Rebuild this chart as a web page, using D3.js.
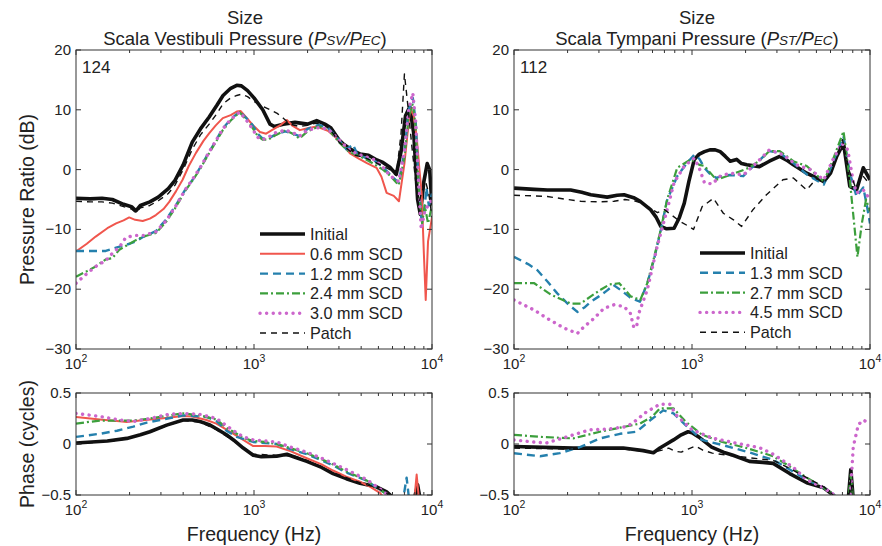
<!DOCTYPE html>
<html>
<head>
<meta charset="utf-8">
<script src="https://cdn.jsdelivr.net/npm/d3@7"></script>
<style>
  body { margin: 0; background: #fff; }
  svg { font-family: "Liberation Sans", Arial, sans-serif; }
</style>
</head>
<body>
<svg id="chart" width="882" height="546"></svg>
<script>
// tick values
var dbTicks = [-30, -20, -10, 0, 10, 20]
var phaseTicks = [-0.5, 0, 0.5]
var decades = [100, 1000, 10000]

// Scala vestibuli, magnitude (Hz, dB)
var svInitial = [[100,-4.8],[120,-4.9],[140,-4.8],[160,-5.0],[185,-5.8],[205,-6.2],[217,-6.9],[230,-6.0],[260,-5.4],[290,-4.6],[330,-3.2],[360,-1.8],[400,0.8],[450,4.6],[500,6.8],[560,8.8],[620,10.8],[670,12.4],[740,13.6],[800,14.1],[850,14.0],[920,13.2],[1000,12.0],[1120,10.0],[1230,7.6],[1300,7.2],[1460,7.6],[1700,7.9],[2000,7.6],[2250,8.2],[2500,7.6],[2700,7.0],[3000,5.0],[3200,4.2],[3500,3.4],[3950,2.6],[4400,2.4],[4900,1.6],[5300,1.2],[5800,0.4],[6300,-0.8],[6700,3],[7100,9],[7500,10.5],[7900,6],[8300,-5],[8600,-7.5],[9000,-2],[9400,1],[9700,0],[10000,-6]]
var svScd06 = [[100,-13.7],[115,-12.4],[129,-11.2],[150,-9.8],[168,-9.0],[185,-8.5],[199,-8.0],[215,-8.4],[237,-8.6],[260,-8.2],[281,-7.6],[310,-6.6],[334,-5.4],[365,-3.6],[397,-1.7],[430,0.6],[472,2.8],[520,4.8],[561,6.1],[610,7.4],[668,8.6],[740,9.1],[800,9.7],[840,9.8],[900,8.8],[980,7.5],[1080,6.3],[1170,6.0],[1260,6.6],[1400,7.4],[1530,8.3],[1650,7.3],[1810,6.6],[2000,6.9],[2250,7.2],[2600,6.5],[2920,5.2],[3200,4.0],[3460,2.7],[3900,1.8],[4310,1.1],[4880,0.3],[5200,-1.2],[5560,-3.9],[6100,-4.4],[6520,-5.3],[7000,1],[7540,10.3],[7900,9.0],[8200,5.5],[8500,0],[8750,-4],[9000,-14],[9220,-21.8],[9500,-12],[10000,-8]]
var svScd12 = [[100,-13.6],[120,-13.6],[147,-13.6],[170,-13.0],[200,-12.4],[217,-12.0],[240,-11.2],[281,-10.3],[320,-8.4],[365,-5.9],[410,-3.4],[452,-1.7],[500,0.4],[561,3.0],[610,4.8],[668,6.9],[740,8.4],[830,9.7],[900,8.7],[980,7.5],[1050,6.0],[1117,5.2],[1200,5.2],[1330,5.9],[1500,6.4],[1650,6.0],[1800,5.6],[2000,6.8],[2300,7.5],[2600,7.0],[3000,5.0],[3300,3.4],[3600,4.2],[3800,2.6],[4200,2.0],[4800,1.4],[5300,0.4],[5800,-0.8],[6500,-2.2],[7000,3],[7400,10],[7800,12],[8100,8],[8400,-2],[8700,-8],[9000,-8],[9300,-3],[9600,-6],[10000,-4]]
var svScd24 = [[100,-17.9],[115,-17.0],[129,-16.2],[147,-15.0],[160,-14.8],[175,-13.4],[200,-12.4],[217,-11.8],[240,-11.2],[281,-10.6],[320,-8.8],[365,-6.2],[410,-3.6],[452,-1.8],[500,0.2],[561,2.8],[610,4.6],[668,6.6],[740,8.2],[830,9.6],[900,8.4],[980,7.0],[1050,5.6],[1117,5.0],[1200,5.0],[1330,5.8],[1500,6.6],[1650,6.0],[1800,5.2],[2000,6.4],[2300,7.2],[2600,6.8],[3000,4.6],[3400,3.0],[3800,2.4],[4200,1.8],[4800,0.8],[5300,0.0],[5800,-1.0],[6500,-2.6],[7000,2],[7400,9],[7800,11],[8100,7],[8400,-3],[8800,-9],[9100,-6],[9500,-9],[10000,-6]]
var svScd30 = [[100,-19.0],[115,-17.4],[129,-16.2],[147,-15.2],[160,-14.0],[175,-13.0],[190,-11.4],[200,-11.2],[217,-11.0],[240,-11.0],[281,-10.4],[320,-8.6],[365,-6.0],[410,-3.4],[452,-1.6],[500,0.4],[561,3.0],[610,4.8],[668,6.8],[740,8.4],[830,9.6],[900,8.4],[980,6.8],[1050,5.4],[1117,5.0],[1200,5.4],[1330,6.2],[1500,6.6],[1650,6.2],[1800,5.6],[2000,6.6],[2300,7.0],[2600,6.8],[3000,5.0],[3400,3.4],[3800,2.6],[4200,2.2],[4800,1.6],[5300,0.4],[5800,-1.0],[6500,-2.0],[7000,3],[7400,10],[7800,12.8],[8100,8],[8400,-2],[8700,-10],[9100,-7],[9500,-6],[10000,-5]]
var svPatch = [[100,-5.3],[120,-5.4],[140,-5.4],[160,-5.6],[185,-6.2],[205,-6.6],[217,-7.2],[230,-6.4],[260,-6.0],[290,-5.2],[330,-4.0],[360,-2.6],[400,0.0],[450,3.4],[500,5.8],[560,7.6],[620,9.4],[670,11.0],[740,12.0],[800,12.4],[850,12.6],[920,12.2],[1000,11.4],[1120,10.6],[1230,10.0],[1350,9.4],[1460,8.6],[1600,7.6],[1800,7.2],[2000,7.4],[2250,7.8],[2500,7.4],[2700,6.6],[3000,4.6],[3300,3.6],[3700,2.4],[4200,2.0],[4800,1.2],[5300,0.6],[5800,0.0],[6300,-1.0],[6700,6],[7000,16],[7300,11],[7700,4],[8100,-2],[8400,-6],[8700,-4],[9200,-2],[9600,-4],[10000,-8]]

// Scala vestibuli, phase (Hz, cycles)
var svPhInitial = [[100,0.01],[150,0.03],[193,0.055],[230,0.09],[260,0.12],[323,0.185],[400,0.235],[450,0.235],[497,0.22],[560,0.19],[615,0.15],[700,0.09],[767,0.04],[870,-0.04],[990,-0.11],[1100,-0.125],[1340,-0.12],[1530,-0.10],[1700,-0.13],[1980,-0.17],[2400,-0.23],[2780,-0.29],[3300,-0.34],[3940,-0.385],[4880,-0.42],[5560,-0.47],[6000,-0.52],[7000,-0.6],[7800,-0.6],[8300,-0.4],[8700,-0.6],[10000,-0.6]]
var svPhScd06 = [[100,0.265],[136,0.24],[170,0.225],[193,0.215],[229,0.23],[300,0.25],[400,0.275],[450,0.27],[540,0.235],[615,0.2],[700,0.14],[767,0.10],[870,0.04],[990,-0.02],[1150,-0.02],[1340,-0.025],[1600,-0.07],[1980,-0.14],[2400,-0.2],[2780,-0.26],[3300,-0.32],[3940,-0.37],[4500,-0.42],[5100,-0.48],[5500,-0.55],[7000,-0.6],[7900,-0.6],[8200,-0.3],[8500,-0.6],[10000,-0.6]]
var svPhScd12 = [[100,0.07],[136,0.10],[170,0.13],[210,0.17],[250,0.21],[296,0.235],[350,0.26],[400,0.28],[460,0.275],[543,0.265],[620,0.22],[700,0.13],[800,0.07],[990,0.02],[1150,0.01],[1340,0.0],[1600,-0.05],[1980,-0.10],[2400,-0.16],[2780,-0.21],[3300,-0.28],[4310,-0.36],[5000,-0.44],[5560,-0.49],[6000,-0.55],[6800,-0.6],[7200,-0.33],[7500,-0.6],[10000,-0.6]]
var svPhScd24 = [[100,0.20],[136,0.23],[170,0.23],[210,0.23],[260,0.25],[330,0.28],[400,0.30],[500,0.28],[615,0.24],[700,0.16],[767,0.12],[870,0.06],[990,0.03],[1150,0.02],[1340,0.0],[1600,-0.04],[1980,-0.09],[2400,-0.15],[2780,-0.2],[3300,-0.27],[4310,-0.36],[5000,-0.44],[5560,-0.49],[6000,-0.55],[10000,-0.6]]
var svPhScd30 = [[100,0.30],[136,0.27],[170,0.24],[210,0.22],[260,0.25],[330,0.29],[400,0.30],[500,0.29],[615,0.25],[700,0.18],[767,0.13],[870,0.07],[990,0.04],[1150,0.03],[1340,0.02],[1600,-0.03],[1980,-0.08],[2400,-0.14],[2780,-0.19],[3300,-0.25],[4310,-0.35],[5000,-0.43],[5560,-0.49],[6000,-0.55],[10000,-0.6]]
var svPhPatch = [[100,0.0],[150,0.025],[193,0.05],[260,0.115],[323,0.18],[400,0.23],[497,0.215],[615,0.14],[767,0.03],[990,-0.1],[1340,-0.11],[1700,-0.12],[1980,-0.16],[2780,-0.28],[3940,-0.38],[4880,-0.43],[5560,-0.48],[6000,-0.55],[10000,-0.6]]

// Scala tympani, magnitude (Hz, dB)
var stInitial = [[100,-3.1],[130,-3.3],[154,-3.4],[208,-3.4],[240,-3.8],[270,-4.2],[334,-4.6],[380,-4.3],[415,-4.2],[470,-4.7],[512,-5.3],[585,-6.7],[630,-8.0],[668,-9.5],[720,-9.9],[793,-9.8],[850,-8.0],[905,-5.6],[960,-2.0],[1030,1.7],[1100,2.6],[1175,3.0],[1260,3.3],[1350,3.3],[1440,3.0],[1540,2.2],[1640,1.4],[1780,1.7],[1900,1.0],[2030,0.8],[2390,0.5],[2720,1.4],[3110,2.2],[3400,1.6],[3710,0.8],[4410,-0.6],[5000,-1.4],[5500,-2.0],[6000,-0.6],[6500,2.2],[7100,4.4],[7700,-2.8],[8400,-3.4],[9170,0.3],[10000,-1.7]]
var stScd13 = [[100,-14.6],[120,-15.8],[135,-16.8],[155,-18.8],[175,-20.7],[200,-22.4],[227,-23.8],[250,-23.0],[270,-22.1],[300,-21.2],[334,-20.2],[362,-19.3],[400,-20.2],[450,-21.4],[510,-22.1],[561,-19.0],[611,-15.1],[668,-10.1],[725,-5.1],[826,-1.1],[937,1.1],[1030,2.5],[1100,1.8],[1175,0.3],[1250,-0.6],[1370,-1.4],[1500,-1.0],[1640,-0.9],[1940,-1.1],[2300,1.1],[2720,3.1],[3110,2.8],[3710,1.1],[4410,-0.8],[5500,-2.5],[6200,1.1],[7100,5.5],[7700,-0.5],[8400,-4.5],[9170,-3.0],[9600,-6],[10000,-9]]
var stScd27 = [[100,-19.0],[130,-19.0],[161,-20.9],[208,-22.4],[237,-22.4],[270,-21.2],[310,-20.0],[345,-19.2],[390,-19.0],[453,-21.2],[512,-21.8],[561,-19.0],[611,-14.8],[668,-10.0],[725,-5.0],[826,0.3],[985,1.7],[1100,0.8],[1175,0.6],[1370,-1.7],[1640,-0.9],[2090,0.3],[2400,1.5],[2720,3.1],[3110,3.1],[3710,1.4],[4410,0.6],[5500,-2.0],[6200,1.7],[7100,6.4],[7700,-1.7],[8250,-10.7],[8500,-14.6],[9000,-9],[9500,-5],[10000,-7]]
var stScd45 = [[100,-21.8],[130,-23.5],[154,-24.9],[191,-26.5],[227,-27.4],[247,-26.3],[281,-24.9],[320,-23.2],[365,-22.6],[415,-22.9],[450,-24],[472,-26.5],[490,-26],[503,-24],[561,-20.1],[637,-12.9],[725,-6.7],[793,-2.2],[905,0.6],[1030,1.9],[1100,0.2],[1175,-2.2],[1300,-2.4],[1440,-1.1],[1640,-0.6],[1940,-0.9],[2300,1.1],[2720,3.3],[3240,2.5],[3860,0.8],[4620,0.0],[5500,-1.7],[6200,1.7],[6950,4.4],[7500,3.3],[8050,-2.0],[8400,-3.9],[9170,-3.4],[10000,-5]]
var stPatch = [[100,-4.3],[130,-4.4],[154,-4.5],[200,-5.0],[237,-5.3],[300,-5.4],[365,-5.3],[420,-5.0],[470,-5.2],[520,-5.6],[585,-6.5],[640,-7.2],[700,-6.7],[760,-7.5],[850,-8.6],[960,-9.5],[1020,-10.0],[1140,-6.2],[1320,-4.8],[1500,-7.3],[1710,-8.4],[1900,-9.5],[2200,-6.7],[2620,-4.2],[3240,-1.7],[3710,-1.4],[4410,-3.4],[5000,-1.5],[5500,-2.2],[6000,-0.8],[6500,2.0],[7000,5.0],[7600,0],[8300,-3.0],[9100,-1.0],[10000,-2.5]]

// Scala tympani, phase (Hz, cycles)
var stPhInitial = [[100,-0.025],[215,-0.04],[411,-0.04],[532,-0.065],[607,-0.085],[660,-0.04],[720,0.0],[787,0.04],[870,0.09],[950,0.12],[1000,0.11],[1090,0.07],[1290,-0.03],[1500,-0.08],[1700,-0.11],[2100,-0.17],[2500,-0.18],[2860,-0.19],[3540,-0.29],[4410,-0.38],[5500,-0.43],[6200,-0.5],[6800,-0.6],[7500,-0.6],[7800,-0.25],[8100,-0.6],[10000,-0.6]]
var stPhScd13 = [[100,-0.09],[140,-0.12],[181,-0.09],[235,-0.03],[304,0.055],[394,0.10],[488,0.12],[580,0.23],[690,0.33],[787,0.30],[920,0.185],[1140,0.04],[1480,-0.01],[2030,-0.075],[2860,-0.155],[3540,-0.25],[4410,-0.35],[5500,-0.43],[6300,-0.5],[6800,-0.6],[10000,-0.6]]
var stPhScd27 = [[100,0.09],[140,0.07],[215,0.055],[304,0.12],[394,0.16],[510,0.2],[600,0.27],[660,0.35],[787,0.35],[920,0.22],[1140,0.09],[1480,0.02],[2030,-0.04],[2860,-0.12],[3540,-0.22],[4410,-0.33],[5500,-0.43],[6300,-0.5],[6800,-0.6],[7500,-0.6],[7800,-0.3],[8100,-0.6],[10000,-0.6]]
var stPhScd45 = [[100,0.04],[128,0.02],[152,0.01],[198,0.07],[267,0.14],[330,0.145],[429,0.17],[468,0.21],[555,0.315],[660,0.39],[750,0.39],[820,0.28],[1000,0.14],[1290,0.06],[1860,0.0],[2390,-0.035],[2860,-0.1],[3710,-0.23],[4410,-0.35],[5500,-0.43],[6300,-0.5],[7000,-0.6],[7700,-0.6],[8050,-0.03],[8600,0.19],[9170,0.235],[10000,0.2]]
var stPhPatch = [[100,-0.04],[215,-0.05],[411,-0.05],[532,-0.07],[607,-0.08],[680,-0.06],[740,-0.04],[800,-0.07],[870,-0.08],[950,-0.05],[1050,-0.02],[1150,-0.06],[1300,-0.09],[1600,-0.11],[2000,-0.13],[2500,-0.15],[2860,-0.16],[3540,-0.24],[4410,-0.33],[5500,-0.42],[6200,-0.5],[6800,-0.6],[7500,-0.6],[7800,-0.35],[8100,-0.6],[10000,-0.6]]

var svLegend = ['Initial', '0.6 mm SCD', '1.2 mm SCD', '2.4 mm SCD', '3.0 mm SCD', 'Patch']
var stLegend = ['Initial', '1.3 mm SCD', '2.7 mm SCD', '4.5 mm SCD', 'Patch']

// line styles
var styles = {
    initial: {color: '#111', width: 3.6, dash: null},
    red: {color: '#f0564d', width: 2, dash: null},
    blue: {color: '#2580ad', width: 2.4, dash: '8,5'},
    green: {color: '#3c9f3c', width: 2.2, dash: '8,3,2,3'},
    magenta: {color: '#cc66cc', width: 3.4, dash: '0.1,6.5', cap: 'round'},
    patch: {color: '#111', width: 1.4, dash: '6,5'}
}

var svg = d3.select('#chart')
var clipId = 0

function drawPanel(p) {
    var x = d3.scaleLog().domain([100, 10000]).range([p.x0, p.x1])
    var y = d3.scaleLinear().domain(p.yDomain).range([p.y1, p.y0])
    var g = svg.append('g')

    clipId++
    svg.append('clipPath').attr('id', 'clip' + clipId)
        .append('rect').attr('x', p.x0).attr('y', p.y0)
        .attr('width', p.x1 - p.x0).attr('height', p.y1 - p.y0)

    var line = d3.line()
        .x(function (d) { return x(d[0]) })
        .y(function (d) { return y(d[1]) })

    var lines = g.append('g').attr('clip-path', 'url(#clip' + clipId + ')')
    p.series.forEach(function (s) {
        var st = styles[s.style]
        lines.append('path')
            .datum(s.data)
            .attr('fill', 'none')
            .attr('stroke', st.color)
            .attr('stroke-width', st.width)
            .attr('stroke-dasharray', st.dash)
            .attr('stroke-linecap', st.cap || 'butt')
            .attr('stroke-linejoin', 'round')
            .attr('d', line)
    })

    // frame
    g.append('rect')
        .attr('x', p.x0).attr('y', p.y0)
        .attr('width', p.x1 - p.x0).attr('height', p.y1 - p.y0)
        .attr('fill', 'none').attr('stroke', '#333').attr('stroke-width', 1)

    // x ticks (log, inside, top and bottom)
    var xt = x.ticks()
    g.selectAll('.xtick-b').data(xt).enter().append('line')
        .attr('x1', function (d) { return x(d) }).attr('x2', function (d) { return x(d) })
        .attr('y1', p.y1).attr('y2', function (d) { return p.y1 - (decades.indexOf(d) >= 0 ? 5 : 3) })
        .attr('stroke', '#333')
    g.selectAll('.xtick-t').data(xt).enter().append('line')
        .attr('x1', function (d) { return x(d) }).attr('x2', function (d) { return x(d) })
        .attr('y1', p.y0).attr('y2', function (d) { return p.y0 + (decades.indexOf(d) >= 0 ? 5 : 3) })
        .attr('stroke', '#333')

    // y ticks
    g.selectAll('.ytick-l').data(p.yTicks).enter().append('line')
        .attr('x1', p.x0).attr('x2', p.x0 + 5)
        .attr('y1', function (d) { return y(d) }).attr('y2', function (d) { return y(d) })
        .attr('stroke', '#333')
    g.selectAll('.ytick-r').data(p.yTicks).enter().append('line')
        .attr('x1', p.x1).attr('x2', p.x1 - 5)
        .attr('y1', function (d) { return y(d) }).attr('y2', function (d) { return y(d) })
        .attr('stroke', '#333')

    g.selectAll('.ylab').data(p.yTicks).enter().append('text')
        .attr('x', p.x0 - 5)
        .attr('y', function (d) { return y(d) + 5 })
        .attr('text-anchor', 'end')
        .attr('font-size', 15)
        .attr('fill', '#222')
        .text(function (d) { return d3.format('')(d).replace('-', '\u2212') })

    // decade labels 10^n
    var dl = g.selectAll('.xlab').data(decades).enter().append('text')
        .attr('x', function (d) { return x(d) })
        .attr('y', p.y1 + 20)
        .attr('text-anchor', 'middle')
        .attr('font-size', 15)
        .attr('fill', '#222')
    dl.append('tspan').text('10')
    dl.append('tspan').attr('dy', -7).attr('font-size', 10.5)
        .text(function (d) { return String(Math.round(Math.log10(d))) })

    if (p.tag) {
        g.append('text').attr('x', p.x0 + 6).attr('y', p.y0 + 23)
            .attr('font-size', 17).attr('fill', '#222').text(p.tag)
    }
    if (p.ylabel) {
        g.append('text')
            .attr('transform', 'translate(' + 34 + ',' + ((p.y0 + p.y1) / 2) + ') rotate(-90)')
            .attr('text-anchor', 'middle').attr('font-size', 19.5).attr('fill', '#222')
            .text(p.ylabel)
    }
    if (p.xlabel) {
        g.append('text').attr('x', (p.x0 + p.x1) / 2).attr('y', p.y1 + 46)
            .attr('text-anchor', 'middle').attr('font-size', 19.5).attr('fill', '#222')
            .text(p.xlabel)
    }
    if (p.legend) {
        var lg = g.append('g')
        p.legend.forEach(function (name, i) {
            var st = styles[p.series[i].style]
            var ly = p.legendY + i * 19.8
            lg.append('line')
                .attr('x1', p.legendX).attr('x2', p.legendX + 45)
                .attr('y1', ly).attr('y2', ly)
                .attr('stroke', st.color).attr('stroke-width', st.width)
                .attr('stroke-dasharray', st.dash)
                .attr('stroke-linecap', st.cap || 'butt')
            lg.append('text').attr('x', p.legendX + 50).attr('y', ly + 6)
                .attr('font-size', 16.2).attr('fill', '#222').text(name)
        })
    }
}

function drawTitle(cx, name, sub) {
    svg.append('text').attr('x', cx).attr('y', 24).attr('text-anchor', 'middle')
        .attr('font-size', 18.5).attr('fill', '#222').text('Size')
    var t = svg.append('text').attr('x', cx).attr('y', 45).attr('text-anchor', 'middle')
        .attr('font-size', 18.5).attr('fill', '#222')
    t.append('tspan').text(name + ' (')
    t.append('tspan').attr('font-style', 'italic').text('P')
    t.append('tspan').attr('font-style', 'italic').attr('font-size', 13.5).text(sub)
    t.append('tspan').attr('font-style', 'italic').text('/P')
    t.append('tspan').attr('font-style', 'italic').attr('font-size', 13.5).text('EC')
    t.append('tspan').text(')')
}

drawTitle(245, 'Scala Vestibuli Pressure', 'SV')
drawTitle(697, 'Scala Tympani Pressure', 'ST')

drawPanel({
    x0: 76, x1: 432, y0: 50, y1: 349, yDomain: [-30, 20], yTicks: dbTicks,
    tag: '124', ylabel: 'Pressure Ratio (dB)',
    series: [
        {data: svInitial, style: 'initial'},
        {data: svScd06, style: 'red'},
        {data: svScd12, style: 'blue'},
        {data: svScd24, style: 'green'},
        {data: svScd30, style: 'magenta'},
        {data: svPatch, style: 'patch'}
    ],
    legend: svLegend, legendX: 260, legendY: 234
})

drawPanel({
    x0: 514, x1: 870, y0: 50, y1: 349, yDomain: [-30, 20], yTicks: dbTicks,
    tag: '112',
    series: [
        {data: stInitial, style: 'initial'},
        {data: stScd13, style: 'blue'},
        {data: stScd27, style: 'green'},
        {data: stScd45, style: 'magenta'},
        {data: stPatch, style: 'patch'}
    ],
    legend: stLegend, legendX: 700, legendY: 253
})

drawPanel({
    x0: 76, x1: 432, y0: 393, y1: 495, yDomain: [-0.5, 0.5], yTicks: phaseTicks,
    ylabel: 'Phase (cycles)', xlabel: 'Frequency (Hz)',
    series: [
        {data: svPhInitial, style: 'initial'},
        {data: svPhScd06, style: 'red'},
        {data: svPhScd12, style: 'blue'},
        {data: svPhScd24, style: 'green'},
        {data: svPhScd30, style: 'magenta'},
        {data: svPhPatch, style: 'patch'}
    ]
})

drawPanel({
    x0: 514, x1: 870, y0: 393, y1: 495, yDomain: [-0.5, 0.5], yTicks: phaseTicks,
    xlabel: 'Frequency (Hz)',
    series: [
        {data: stPhInitial, style: 'initial'},
        {data: stPhScd13, style: 'blue'},
        {data: stPhScd27, style: 'green'},
        {data: stPhScd45, style: 'magenta'},
        {data: stPhPatch, style: 'patch'}
    ]
})
</script>
</body>
</html>
